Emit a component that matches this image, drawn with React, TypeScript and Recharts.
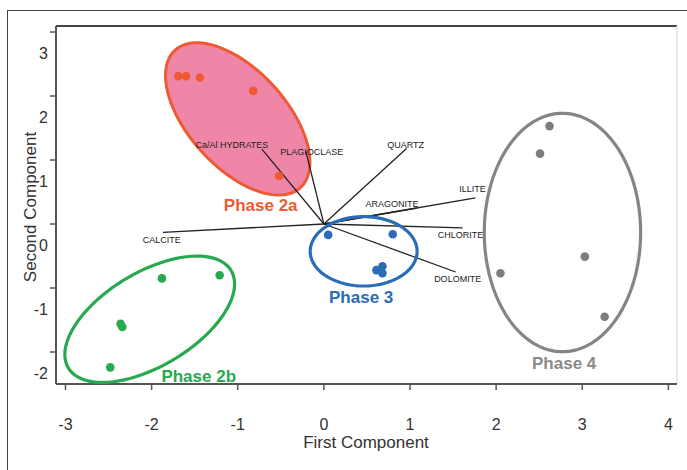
import React from "react";
import { ScatterChart, Scatter, XAxis, YAxis, ReferenceLine, Customized } from "recharts";

const xTicks = [-3, -2, -1, 0, 1, 2, 3, 4];
const yTicks = [-2, -1, 0, 1, 2, 3];
const X_MIN = -3.11;
const X_MAX = 4.1;
const Y_MIN = -2.5;
const Y_MAX = 3.094;

// sample scores
const phase2a = [
  { x: -1.69, y: 2.31 },
  { x: -1.6, y: 2.31 },
  { x: -1.44, y: 2.29 },
  { x: -0.82, y: 2.08 },
  { x: -0.52, y: 0.75 },
];
const phase2b = [
  { x: -1.88, y: -0.85 },
  { x: -1.21, y: -0.8 },
  { x: -2.36, y: -1.56 },
  { x: -2.34, y: -1.61 },
  { x: -2.48, y: -2.24 },
];
const phase3 = [
  { x: 0.05, y: -0.17 },
  { x: 0.8, y: -0.16 },
  { x: 0.61, y: -0.72 },
  { x: 0.68, y: -0.66 },
  { x: 0.68, y: -0.77 },
];
const phase4 = [
  { x: 2.62, y: 1.53 },
  { x: 2.51, y: 1.1 },
  { x: 3.03, y: -0.51 },
  { x: 2.05, y: -0.77 },
  { x: 3.26, y: -1.45 },
];

// loading vectors (end points, from the origin)
const loadings = [
  { name: "CALCITE", x: -1.87, y: -0.13 },
  { name: "Ca/Al HYDRATES", x: -0.72, y: 1.17 },
  { name: "PLAGIOCLASE", x: -0.21, y: 1.14 },
  { name: "QUARTZ", x: 0.96, y: 1.18 },
  { name: "ILLITE", x: 1.76, y: 0.41 },
  { name: "ARAGONITE", x: 1.08, y: 0.25 },
  { name: "CHLORITE", x: 1.61, y: -0.06 },
  { name: "DOLOMITE", x: 1.53, y: -0.75 },
];

// group ellipses: centre and two conjugate half-axes, data units
const ellipses = [
  { id: "2a", cx: -1.0, cy: 1.642, ux: 0.727, uy: -1.075, vx: -0.418, vy: -0.512 },
  { id: "2b", cx: -2.022, cy: -1.488, ux: 0.945, uy: 0.761, vx: 0.28, vy: -0.629 },
  { id: "3", cx: 0.462, cy: -0.427, ux: 0.621, uy: 0, vx: 0, vy: 0.542 },
  { id: "4", cx: 2.77, cy: -0.133, ux: 0.908, uy: 0, vx: 0, vy: 1.863 },
];

const phaseLabels = [
  { id: "2a", name: "Phase 2a", x: -0.733, y: 0.297 },
  { id: "2b", name: "Phase 2b", x: -1.453, y: -2.375 },
  { id: "3", name: "Phase 3", x: 0.433, y: -1.136 },
  { id: "4", name: "Phase 4", x: 2.79, y: -2.167 },
];

const colors: Record<string, string> = {
  "2a": "#EE5A32",
  "2b": "#27A94F",
  "3": "#2B6CB7",
  "4": "#858585",
};

const labelOffset: Record<string, [number, number]> = {
  CALCITE: [-1, 8],
  "Ca/Al HYDRATES": [-30, -4],
  PLAGIOCLASE: [6, 1],
  QUARTZ: [-1, -4],
  ILLITE: [-3, -9],
  ARAGONITE: [-25, -4],
  CHLORITE: [-2, 7],
  DOLOMITE: [2, 7],
};

const FONT = '"Liberation Sans", Arial, sans-serif';

function outline(e: (typeof ellipses)[number]) {
  const pts = [];
  for (let k = 0; k <= 90; k++) {
    const t = (k / 90) * Math.PI * 2;
    pts.push({
      x: e.cx + Math.cos(t) * e.ux + Math.sin(t) * e.vx,
      y: e.cy + Math.cos(t) * e.uy + Math.sin(t) * e.vy,
    });
  }
  return pts;
}

const noDot = () => <g />;

const XTick = (p: any) => (
  <text x={p.x} y={p.y + 38} textAnchor="middle" fontSize={16} fill="#333" fontFamily={FONT}>
    {p.payload.value}
  </text>
);

const YTick = (p: any) => (
  <text x={p.x} y={p.y + 27} textAnchor="end" fontSize={16} fill="#333" fontFamily={FONT}>
    {p.payload.value}
  </text>
);

const AxisTitles = () => (
  <g fontFamily={FONT} fontSize={17} fill="#333">
    <text x={366} y={448} textAnchor="middle">
      First Component
    </text>
    <text x={36} y={207} textAnchor="middle" transform="rotate(-90 36 207)">
      Second Component
    </text>
  </g>
);

export default function App() {
  const dot = (c: string) => (p: any) => <circle cx={p.cx} cy={p.cy} r={4.3} fill={c} />;
  return (
    <div style={{ position: "absolute", left: 0, top: 0, width: 687, height: 470, overflow: "hidden", background: "#fff" }}>
      <div
        style={{
          position: "absolute",
          left: 7,
          top: 10,
          width: 690,
          height: 470,
          borderLeft: "1.5px solid #444",
          borderTop: "1.5px solid #444",
        }}
      />
      <div style={{ position: "absolute", left: 0, top: 0 }}>
        <ScatterChart width={687} height={470} margin={{ top: 26, right: 10, bottom: 36, left: 16 }}>
          <XAxis
            type="number"
            dataKey="x"
            domain={[X_MIN, X_MAX]}
            ticks={xTicks}
            allowDataOverflow
            height={50}
            tickSize={6}
            axisLine={{ stroke: "#555", strokeWidth: 2 }}
            tickLine={{ stroke: "#555", strokeWidth: 1.5 }}
            tick={XTick}
          />
          <YAxis
            type="number"
            dataKey="y"
            domain={[Y_MIN, Y_MAX]}
            ticks={yTicks}
            allowDataOverflow
            width={40}
            tickSize={6}
            axisLine={{ stroke: "#555", strokeWidth: 2 }}
            tickLine={{ stroke: "#555", strokeWidth: 1.5 }}
            tick={YTick}
          />
          <ReferenceLine y={Y_MAX} stroke="#444" strokeWidth={2} />
          <ReferenceLine x={X_MAX} stroke="#e4e4e4" strokeWidth={1.5} />

          {/* filled ellipse for phase 2a goes under everything else */}
          <Scatter
            data={outline(ellipses[0])}
            shape={noDot}
            line={{ stroke: colors["2a"], strokeWidth: 3, fill: "#EF86A8" }}
            lineJointType="linear"
            isAnimationActive={false}
          />

          {loadings.map((l) => (
            <Scatter
              key={l.name}
              data={[{ x: 0, y: 0 }, { x: l.x, y: l.y }]}
              shape={noDot}
              line={{ stroke: "#222", strokeWidth: 1.3 }}
              isAnimationActive={false}
            />
          ))}

          {ellipses.slice(1).map((e) => (
            <Scatter
              key={e.id}
              data={outline(e)}
              shape={noDot}
              line={{ stroke: colors[e.id], strokeWidth: 3.2, fill: "none" }}
              lineJointType="linear"
              isAnimationActive={false}
            />
          ))}

          <Scatter data={phase2a} shape={dot(colors["2a"])} isAnimationActive={false} />
          <Scatter data={phase2b} shape={dot(colors["2b"])} isAnimationActive={false} />
          <Scatter data={phase3} shape={dot(colors["3"])} isAnimationActive={false} />
          <Scatter data={phase4} shape={dot("#7d7d7d")} isAnimationActive={false} />

          <Scatter
            data={loadings}
            isAnimationActive={false}
            shape={(p: any) => {
              const [dx, dy] = labelOffset[p.payload.name];
              return (
                <text
                  x={p.cx + dx}
                  y={p.cy + dy}
                  dy="0.35em"
                  textAnchor="middle"
                  fontSize={9}
                  fill="#222"
                  fontFamily={FONT}
                >
                  {p.payload.name}
                </text>
              );
            }}
          />
          <Scatter
            data={phaseLabels}
            isAnimationActive={false}
            shape={(p: any) => (
              <text
                x={p.cx}
                y={p.cy}
                dy="0.35em"
                textAnchor="middle"
                fontSize={17}
                fontWeight="bold"
                fill={p.payload.id === "4" ? "#8a8a8a" : colors[p.payload.id]}
                fontFamily={FONT}
              >
                {p.payload.name}
              </text>
            )}
          />
          <Customized component={<AxisTitles />} />
        </ScatterChart>
      </div>
    </div>
  );
}
